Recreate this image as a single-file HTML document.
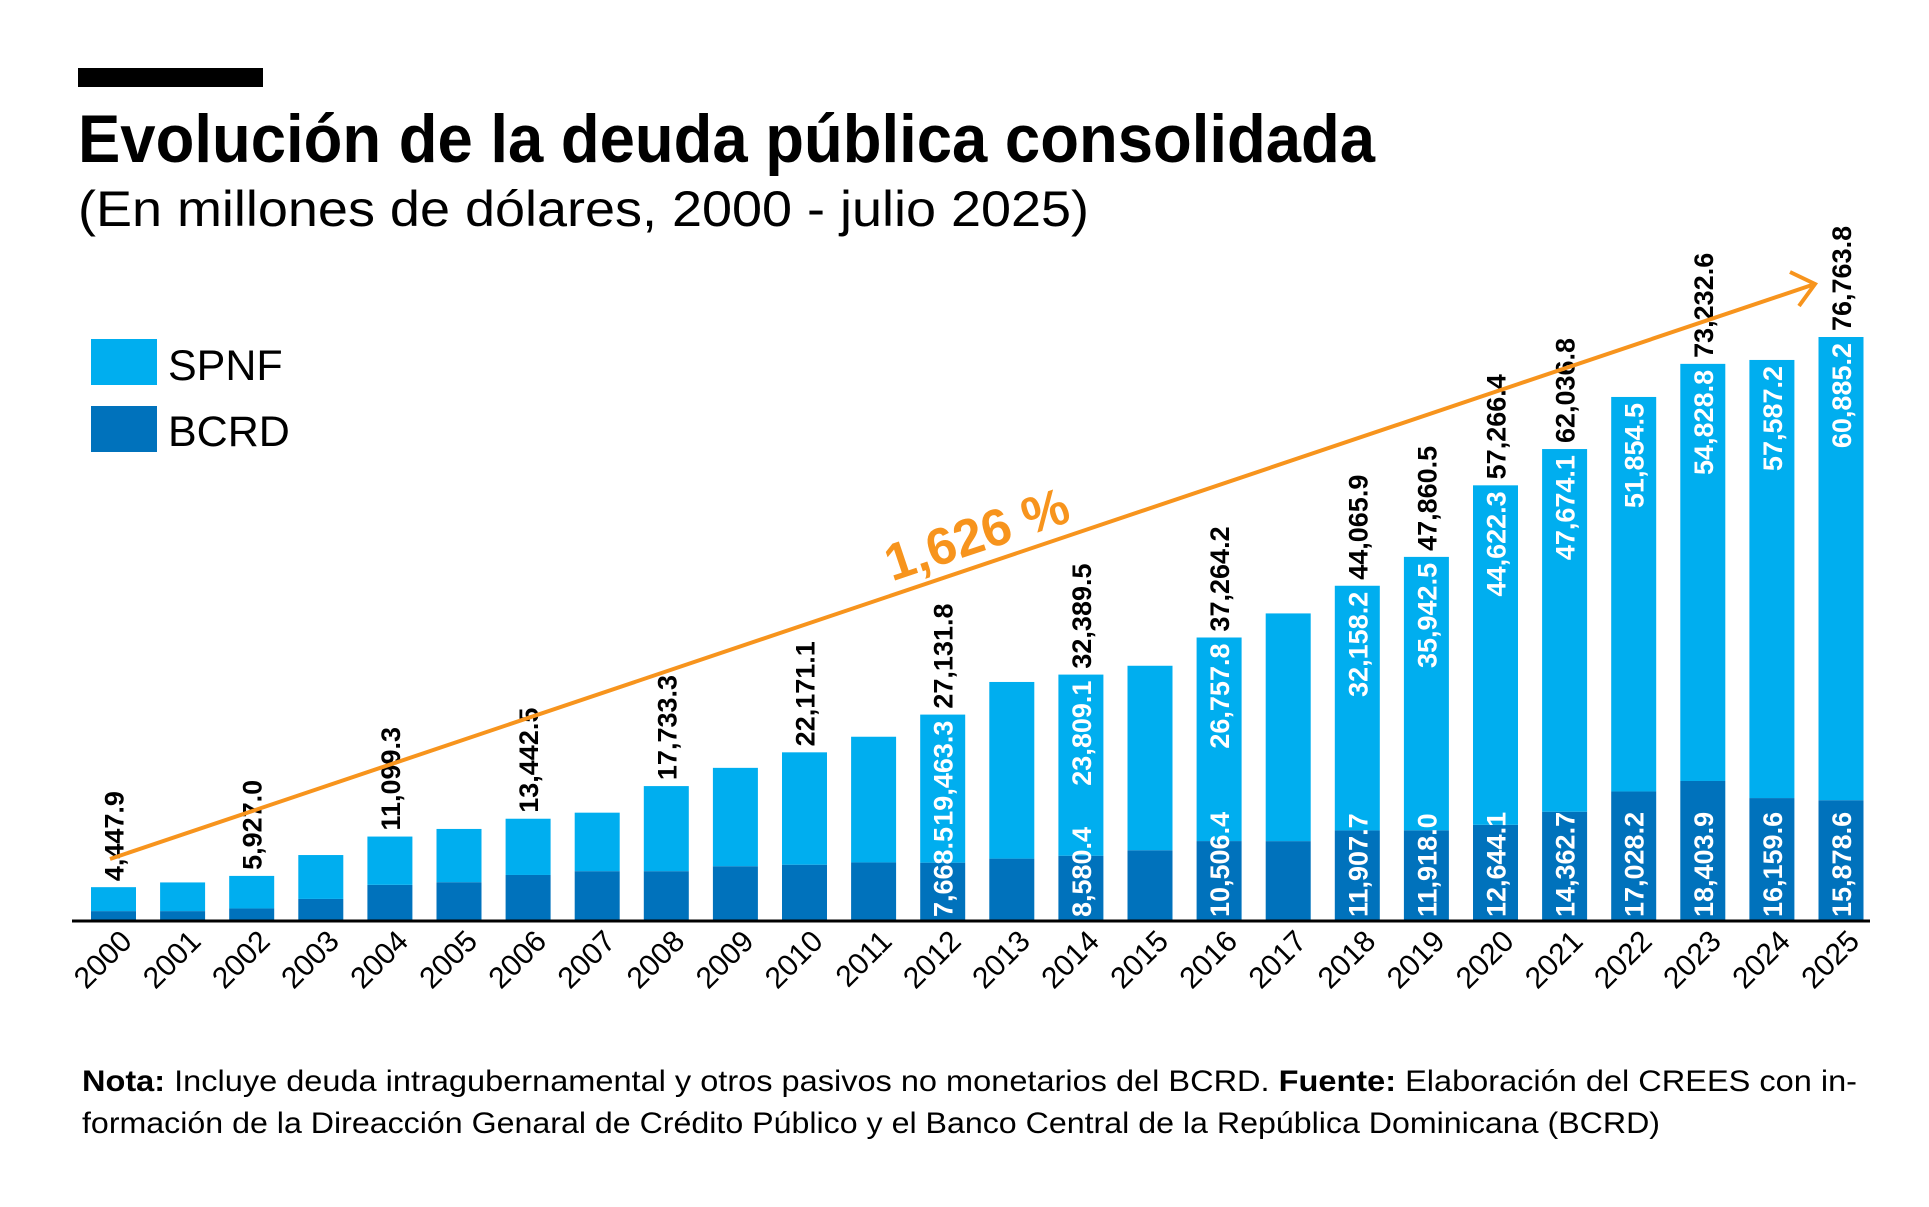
<!DOCTYPE html>
<html><head><meta charset="utf-8"><style>
html,body{margin:0;padding:0;background:#fff;}
svg{display:block;font-family:"Liberation Sans Narrow","Liberation Sans",sans-serif;}
</style></head><body>
<svg id="chart" width="1929" height="1207" viewBox="0 0 1929 1207" xmlns="http://www.w3.org/2000/svg">
<rect x="78" y="68" width="185" height="19" fill="#000"/>
<text x="78" y="162" font-size="68" font-weight="bold" textLength="1297" lengthAdjust="spacingAndGlyphs">Evolución de la deuda pública consolidada</text>
<text x="78" y="226" font-size="50" textLength="1011" lengthAdjust="spacingAndGlyphs">(En millones de dólares, 2000 - julio 2025)</text>
<rect x="91" y="339" width="66" height="46" fill="#00aeef"/>
<text x="168" y="380" font-size="43">SPNF</text>
<rect x="91" y="406" width="66" height="46" fill="#0072bc"/>
<text x="168" y="446" font-size="43">BCRD</text>
<g id="bars"></g>
<line x1="72" y1="921" x2="1870" y2="921" stroke="#000" stroke-width="3"/>
<g>
<line x1="110" y1="859" x2="1812" y2="285" stroke="#f7941d" stroke-width="4"/>
<polyline points="1790,272 1815,284 1799,306" fill="none" stroke="#f7941d" stroke-width="4"/>
</g>
<text x="977" y="552" font-size="52" font-weight="bold" fill="#f7941d" text-anchor="middle" transform="rotate(-18.6 977 535)">1,626 %</text>
<text x="82" y="1091" font-size="30" textLength="1775" lengthAdjust="spacingAndGlyphs"><tspan font-weight="bold">Nota:</tspan> Incluye deuda intragubernamental y otros pasivos no monetarios del BCRD. <tspan font-weight="bold">Fuente:</tspan> Elaboración del CREES con in-</text>
<text x="82" y="1133" font-size="30" textLength="1578" lengthAdjust="spacingAndGlyphs">formación de la Direacción Genaral de Crédito Público y el Banco Central de la República Dominicana (BCRD)</text>
</svg>
<script>
const years = [2000,2001,2002,2003,2004,2005,2006,2007,2008,2009,2010,2011,2012,2013,2014,2015,2016,2017,2018,2019,2020,2021,2022,2023,2024,2025];
const bcrd = [1300,1300,1650,2900,4750,5100,6050,6550,6550,7200,7400,7700,7668.5,8200,8580.4,9300,10506.4,10500,11907.7,11918.0,12644.1,14362.7,17028.2,18403.9,16159.6,15878.6];
const spnf = [3147.9,3770,4277,5770,6349.3,7000,7392.5,7690,11183.3,12930,14771.1,16520,19463.3,23220,23809.1,24250,26757.8,29930,32158.2,35942.5,44622.3,47674.1,51854.5,54828.8,57587.2,60885.2];
const totalLabels = ["4,447.9","","5,927.0","","11,099.3","","13,442.5","","17,733.3","","22,171.1","","27,131.8","","32,389.5","","37,264.2","","44,065.9","47,860.5","57,266.4","62,036.8","","73,232.6","","76,763.8"];
const bcrdLabels = ["","","","","","","","","","","","","7,668.5","","8,580.4","","10,506.4","","11,907.7","11,918.0","12,644.1","14,362.7","17,028.2","18,403.9","16,159.6","15,878.6"];
const spnfLabels = ["","","","","","","","","","","","","19,463.3","","23,809.1","","26,757.8","","32,158.2","35,942.5","44,622.3","47,674.1","51,854.5","54,828.8","57,587.2","60,885.2"];

const NS = "http://www.w3.org/2000/svg";
const baseY = 921, pxPerUnit = 584/76763.8, x0 = 91, pitch = 69.1, bw = 45;
const xPos = i => x0 + i*pitch;
const yH = v => v*pxPerUnit;
const g = document.getElementById('bars');
function mk(tag, attrs){const e=document.createElementNS(NS,tag);for(const k in attrs)e.setAttribute(k,attrs[k]);return e;}
years.forEach((yr,i)=>{
  const x = xPos(i), hb = yH(bcrd[i]), hs = yH(spnf[i]);
  const cx = x + bw/2;
  const rb = mk('rect',{x:x,y:baseY-hb,width:bw,height:hb,fill:'#0072bc'});
  
  
  g.appendChild(rb);
  const rs = mk('rect',{x:x,y:baseY-hb-hs,width:bw,height:hs,fill:'#00aeef'});
  
  
  g.appendChild(rs);
  const top = baseY-hb-hs;
  const yl = mk('text',{x:cx+20,y:943,'font-size':30,'text-anchor':'end',transform:'rotate(-45 '+(cx+20)+' 943)'});
  yl.textContent = yr;
  
  
  g.appendChild(yl);
  if(totalLabels[i]){
    const t = mk('text',{x:cx+10,y:top-6,'font-size':27,'font-weight':'bold',transform:'rotate(-90 '+(cx+10)+' '+(top-6)+')'});
    t.textContent = totalLabels[i];
    
    
    g.appendChild(t);
  }
  if(bcrdLabels[i]){
    const t = mk('text',{x:cx+10,y:baseY-4,'font-size':27,'font-weight':'bold',fill:'#fff',transform:'rotate(-90 '+(cx+10)+' '+(baseY-4)+')'});
    t.textContent = bcrdLabels[i];
    
    
    g.appendChild(t);
  }
  if(spnfLabels[i]){
    const t = mk('text',{x:cx+10,y:top+6,'font-size':27,'font-weight':'bold',fill:'#fff','text-anchor':'end',transform:'rotate(-90 '+(cx+10)+' '+(top+6)+')'});
    t.textContent = spnfLabels[i];
    
    
    g.appendChild(t);
  }
});
</script>
</body></html>
